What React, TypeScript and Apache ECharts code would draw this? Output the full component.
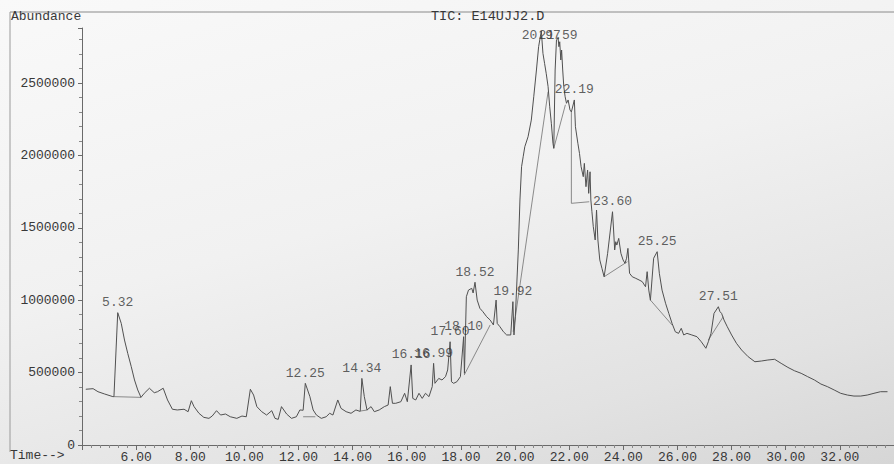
import React, { useEffect, useRef } from "react";
import * as echarts from "echarts";

// Retention time (min) of each sampled point of the TIC trace
const times = [
  4.14, 4.41, 4.59, 4.84, 5.14, 5.18, 5.32, 5.45, 5.57, 5.69, 5.82, 5.94, 6.06, 6.18, 6.30, 6.49, 6.67, 6.79, 7.00,
  7.16, 7.34, 7.52, 7.77, 7.92, 8.04, 8.14, 8.32, 8.50, 8.69, 8.81, 8.97, 9.12, 9.30, 9.48, 9.72, 9.91, 10.07,
  10.22, 10.34, 10.46, 10.64, 10.82, 11.01, 11.13, 11.25, 11.37, 11.56, 11.74, 11.92, 12.05, 12.17, 12.25, 12.42,
  12.54, 12.66, 12.84, 13.02, 13.15, 13.27, 13.45, 13.57, 13.76, 13.94, 14.12, 14.28, 14.34, 14.43, 14.53, 14.68,
  14.80, 14.98, 15.17, 15.31, 15.39, 15.47, 15.59, 15.78, 15.92, 16.02, 16.16, 16.22, 16.33, 16.45, 16.57, 16.69,
  16.82, 16.94, 16.99, 17.04, 17.18, 17.30, 17.43, 17.51, 17.60, 17.65, 17.73, 17.85, 17.98, 18.10, 18.13, 18.20,
  18.28, 18.40, 18.45, 18.52, 18.60, 18.70, 18.81, 18.95, 19.08, 19.20, 19.30, 19.34, 19.44, 19.57, 19.69, 19.84,
  19.92, 19.96, 20.01, 20.12, 20.18, 20.24, 20.30, 20.36, 20.48, 20.60, 20.69, 20.79, 20.87, 20.97, 21.03, 21.09,
  21.15, 21.22, 21.28, 21.34, 21.40, 21.43, 21.48, 21.53, 21.59, 21.62, 21.65, 21.69, 21.72, 21.76, 21.80, 21.85,
  21.90, 21.96, 22.03, 22.08, 22.19, 22.23, 22.32, 22.38, 22.44, 22.52, 22.56, 22.62, 22.68, 22.72, 22.77, 22.80,
  22.84, 22.89, 22.96, 23.01, 23.06, 23.13, 23.21, 23.29, 23.42, 23.60, 23.64, 23.68, 23.72, 23.76, 23.83, 23.91,
  23.99, 24.06, 24.12, 24.17, 24.23, 24.33, 24.46, 24.58, 24.70, 24.82, 24.88, 24.94, 25.00, 25.12, 25.25, 25.33,
  25.43, 25.56, 25.68, 25.80, 25.92, 26.04, 26.14, 26.23, 26.35, 26.53, 26.72, 26.88, 27.05, 27.14, 27.24, 27.35,
  27.51, 27.57, 27.63, 27.72, 27.84, 28.00, 28.18, 28.37, 28.61, 28.86, 29.10, 29.34, 29.59, 29.83, 30.08, 30.32,
  30.57, 30.81, 31.06, 31.30, 31.54, 31.79, 32.03, 32.28, 32.52, 32.77, 33.01, 33.26, 33.50, 33.76,
];

// Abundance of each sampled point (same order as times)
const abundance = [
  385000, 389000, 368000, 352000, 334000, 334000, 914000, 840000, 725000, 633000, 541000, 449000, 380000, 329000,
  357000, 392000, 361000, 368000, 392000, 311000, 247000, 242000, 247000, 230000, 306000, 265000, 219000, 191000,
  184000, 200000, 237000, 207000, 214000, 195000, 184000, 200000, 195000, 385000, 345000, 265000, 230000, 207000,
  237000, 184000, 177000, 265000, 214000, 184000, 195000, 242000, 240000, 426000, 334000, 242000, 207000, 184000,
  195000, 219000, 207000, 311000, 253000, 230000, 219000, 242000, 232000, 460000, 334000, 242000, 265000, 230000,
  242000, 265000, 276000, 403000, 288000, 288000, 299000, 357000, 299000, 553000, 322000, 311000, 357000, 322000,
  357000, 334000, 403000, 564000, 426000, 460000, 449000, 472000, 518000, 713000, 437000, 426000, 437000, 472000,
  748000, 495000, 1024000, 1070000, 1082000, 1050000, 1124000, 1001000, 944000, 921000, 886000, 863000, 829000,
  1001000, 840000, 817000, 782000, 760000, 760000, 990000, 760000, 886000, 1347000, 1692000, 1922000, 1991000,
  2060000, 2129000, 2244000, 2405000, 2590000, 2751000, 2860000, 2705000, 2636000, 2567000, 2475000, 2336000,
  2222000, 2084000, 2049000, 2590000, 2797000, 2810000, 2751000, 2785000, 2659000, 2728000, 2590000, 2475000,
  2405000, 2360000, 2383000, 2314000, 2300000, 2383000, 2198000, 2084000, 2014000, 1922000, 1853000, 1945000,
  1784000, 1899000, 1738000, 1887000, 1692000, 1611000, 1508000, 1416000, 1623000, 1416000, 1278000, 1220000,
  1162000, 1324000, 1611000, 1485000, 1347000, 1404000, 1381000, 1427000, 1324000, 1278000, 1255000, 1290000,
  1358000, 1186000, 1162000, 1151000, 1140000, 1128000, 1093000, 1197000, 1070000, 1000000, 1290000, 1335000,
  1186000, 1070000, 979000, 909000, 840000, 782000, 771000, 806000, 760000, 771000, 760000, 748000, 713000,
  668000, 713000, 771000, 909000, 955000, 921000, 909000, 863000, 817000, 760000, 702000, 656000, 610000, 575000,
  580000, 587000, 592000, 564000, 536000, 513000, 495000, 472000, 449000, 421000, 403000, 380000, 357000, 345000,
  338000, 338000, 345000, 357000, 368000, 368000,
];

// Labelled peaks: retention time and apex abundance
const peakTimes = [5.32, 12.25, 14.34, 16.16, 16.99, 17.6, 18.1, 18.52, 19.92, 20.97, 21.59, 22.19, 23.6, 25.25, 27.51];
const peakHeights = [914000, 426000, 460000, 553000, 564000, 713000, 748000, 1124000, 990000, 2860000, 2810000, 2383000, 1611000, 1335000, 955000];

// Integration baselines drawn by the data system: [time, abundance] vertices
const baselineSegments = [
  [[5.18, 334000], [6.18, 329000]],
  [[12.17, 195000], [12.62, 195000]],
  [[14.3, 235000], [14.55, 242000]],
  [[18.12, 483000], [19.08, 829000]],
  [[19.93, 782000], [21.22, 2440000]],
  [[21.43, 2049000], [21.86, 2350000]],
  [[22.08, 2300000], [22.08, 1669000], [22.74, 1680000]],
  [[23.29, 1162000], [24.15, 1266000]],
  [[25.0, 1001000], [25.8, 829000]],
  [[27.14, 725000], [27.69, 886000]],
];

// Axis ranges / ticks
const timeMin = 4;
const timeMax = 34;
const timeInterval = 2;
const abundanceMax = 2880000;
const abundanceInterval = 500000;

const MONO = "Liberation Mono, Courier New, monospace";
const INK = "#383838";
const AXIS = "#6a6a6a";

export default function App() {
  const ref = useRef<HTMLDivElement>(null);

  useEffect(() => {
    if (!ref.current) return;
    const chart = echarts.init(ref.current, null, { renderer: "svg" });

    const curve = times.map((t, i) => [t, abundance[i]]);
    const labelCeil = 2760000;
    const peaks = peakTimes.map((t, i) => {
      const v = peakHeights[i];
      const dy = v > labelCeil ? ((v - labelCeil) / abundanceMax) * 417 : 0;
      return { value: [t, v], label: { offset: [0, dy], color: INK } };
    });

    chart.setOption({
      animation: false,
      textStyle: { fontFamily: MONO },
      grid: { left: 82, right: -6, top: 28, bottom: 19 },
      xAxis: {
        type: "value",
        min: timeMin,
        max: timeMax,
        interval: timeInterval,
        axisLine: { show: true, onZero: false, lineStyle: { color: AXIS, width: 1 } },
        axisTick: { show: true, length: 5, lineStyle: { color: AXIS } },
        minorTick: { show: true, splitNumber: 6, length: 3, lineStyle: { color: "#888" } },
        splitLine: { show: false },
        axisLabel: {
          formatter: (v: number) => v.toFixed(2),
          showMinLabel: false,
          showMaxLabel: false,
          margin: 6,
          fontFamily: MONO,
          fontSize: 13,
          color: INK,
        },
      },
      yAxis: {
        type: "value",
        min: 0,
        max: abundanceMax,
        interval: abundanceInterval,
        axisLine: { show: true, lineStyle: { color: AXIS, width: 1 } },
        axisTick: { show: true, length: 4, lineStyle: { color: AXIS } },
        minorTick: { show: true, splitNumber: 5, length: 3, lineStyle: { color: "#888" } },
        splitLine: { show: false },
        axisLabel: {
          formatter: (v: number) => String(v),
          showMaxLabel: false,
          margin: 7,
          fontFamily: MONO,
          fontSize: 13,
          color: INK,
        },
      },
      graphic: [
        { type: "line", shape: { x1: 10, y1: 12, x2: 894, y2: 12 }, style: { stroke: "#8a8a8a", lineWidth: 1 } },
        { type: "line", shape: { x1: 10, y1: 12, x2: 10, y2: 452 }, style: { stroke: "#9a9a9a", lineWidth: 1 } },
        {
          type: "text",
          left: 11,
          top: 10,
          style: { text: "Abundance", font: `13px ${MONO}`, fill: INK },
        },
        {
          type: "text",
          left: 431,
          top: 9,
          style: { text: "TIC: E14UJJ2.D", font: `13.5px ${MONO}`, fill: INK },
        },
        {
          type: "text",
          left: 10,
          top: 449,
          style: { text: "Time-->", font: `13px ${MONO}`, fill: INK },
        },
      ],
      series: [
        {
          type: "line",
          data: curve,
          showSymbol: false,
          symbol: "none",
          lineStyle: { color: "#505050", width: 1 },
          z: 3,
        },
        {
          type: "lines",
          coordinateSystem: "cartesian2d",
          polyline: true,
          data: baselineSegments.map((c) => ({ coords: c })),
          lineStyle: { color: "#707070", width: 0.8, opacity: 1 },
          z: 2,
        },
        {
          type: "scatter",
          data: peaks,
          symbolSize: 1,
          itemStyle: { color: "rgba(0,0,0,0)" },
          label: {
            show: true,
            position: "top",
            distance: 3,
            formatter: (p: any) => p.value[0].toFixed(2),
            fontFamily: MONO,
            fontSize: 13,
            color: INK,
            textBorderWidth: 0,
          },
          z: 4,
        },
      ],
    });

    return () => chart.dispose();
  }, []);

  return (
    <div
      ref={ref}
      style={{
        position: "fixed",
        left: 0,
        top: 0,
        width: 894,
        height: 464,
        background: "linear-gradient(165deg, #f9f9f9 0%, #f1f1f1 45%, #e2e2e2 80%, #d6d6d6 100%)",
      }}
    />
  );
}
